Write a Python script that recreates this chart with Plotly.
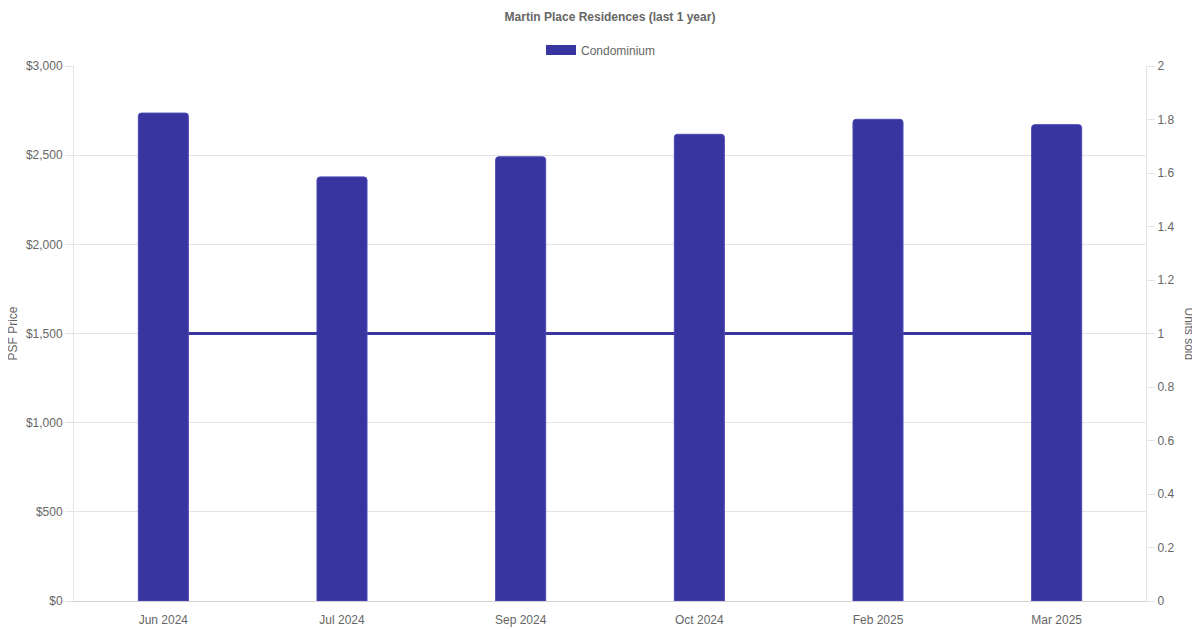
import plotly.graph_objects as go

# values
months = ["Jun 2024", "Jul 2024", "Sep 2024", "Oct 2024", "Feb 2025", "Mar 2025"]
psf_price = [2736, 2378, 2491, 2617, 2701, 2671]
units_sold = [1, 1, 1, 1, 1, 1]

bar_color = "#3834a0"
text_color = "#666666"
grid_color = "#e5e5e5"

fig = go.Figure()

# line first (on 'y') so the bars sit on top of it
fig.add_trace(go.Scatter(
    x=months,
    y=units_sold,
    mode="lines",
    line=dict(color=bar_color, width=3),
    showlegend=False,
    hoverinfo="skip",
    yaxis="y",
))

fig.add_trace(go.Bar(
    x=months,
    y=psf_price,
    name="Condominium",
    marker=dict(color=bar_color, line=dict(color="#4d49b5", width=1), cornerradius=3),
    width=0.28,
    showlegend=False,
    yaxis="y2",
))

# legend-only entry so the swatch is a wide box like the original
fig.add_trace(go.Scatter(
    x=[None],
    y=[None],
    mode="lines",
    name="Condominium",
    line=dict(color=bar_color, width=12),
    yaxis="y2",
))

# the page puts the plot 8px in from the top-left, so margins make up for it
fig.update_layout(
    width=1200,
    height=630,
    margin=dict(l=66, r=62, t=58, b=37),
    paper_bgcolor="white",
    plot_bgcolor="white",
    font=dict(family="Liberation Sans, Arial, sans-serif", size=12, color=text_color),
    title=dict(
        text="<b>Martin Place Residences (last 1 year)</b>",
        x=0.5, xanchor="center", xref="paper",
        y=1 - 9 / 630, yanchor="middle",
        font=dict(size=12, color=text_color),
    ),
    showlegend=True,
    legend=dict(
        orientation="h",
        x=0.5 - 9 / 1072, xanchor="center",
        y=1 + 16 / 535, yanchor="middle",
        font=dict(size=12, color=text_color),
    ),
    xaxis=dict(
        showgrid=False,
        showline=True,
        linecolor="#d0d0d0",
        ticks="outside",
        ticklen=8,
        tickcolor="rgba(0,0,0,0)",
        tickfont=dict(size=12, color=text_color),
        fixedrange=True,
    ),
    # units axis on the right
    yaxis=dict(
        side="right",
        range=[0, 2],
        dtick=0.2,
        showgrid=False,
        zeroline=False,
        showline=True,
        linecolor=grid_color,
        ticks="outside",
        ticklen=8,
        tickcolor=grid_color,
        tickfont=dict(size=12, color=text_color),
    ),
    # price axis on the left
    yaxis2=dict(
        overlaying="y",
        side="left",
        range=[0, 3000],
        dtick=500,
        tickprefix="$",
        tickformat=",",
        showgrid=True,
        gridcolor=grid_color,
        zeroline=False,
        showline=True,
        linecolor=grid_color,
        ticks="outside",
        ticklen=8,
        tickcolor=grid_color,
        tickfont=dict(size=12, color=text_color),
    ),
    annotations=[
        dict(
            text="PSF Price", textangle=-90,
            xref="paper", yref="paper",
            x=-62 / 1072, y=0.5, xanchor="center", yanchor="middle",
            showarrow=False, font=dict(size=12, color=text_color),
        ),
        dict(
            text="Units sold", textangle=90,
            xref="paper", yref="paper",
            x=1 + 43 / 1072, y=0.5, xanchor="center", yanchor="middle",
            showarrow=False, font=dict(size=12, color=text_color),
        ),
    ],
)

fig.write_html("out.html")
